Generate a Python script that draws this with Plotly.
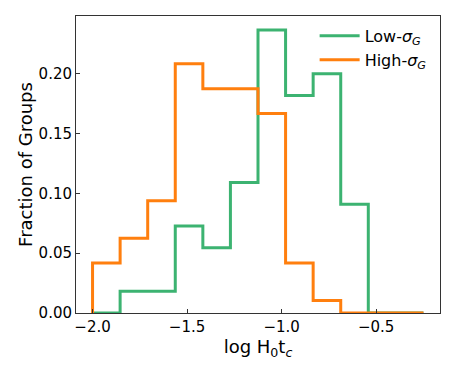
import numpy as np
import plotly.graph_objects as go

# histogram bin edges (12 bins from -2.0 to -0.25)
bin_lo = -2.0
bin_hi = -0.25
n_bins = 12

# fraction of groups per bin
low_sigma = [0.0, 0.0182, 0.0182, 0.0727, 0.0545, 0.1091,
             0.2364, 0.1818, 0.2000, 0.0909, 0.0, 0.0]
high_sigma = [0.0417, 0.0625, 0.0938, 0.2083, 0.1875, 0.1875,
              0.1667, 0.0417, 0.0104, 0.0, 0.0, 0.0]

x_ticks = [-2.0, -1.5, -1.0, -0.5]
y_ticks = [0.0, 0.05, 0.10, 0.15, 0.20]


def step_outline(values):
    # matplotlib-style histtype='step' outline
    edges = np.linspace(bin_lo, bin_hi, n_bins + 1)
    xs = [edges[0]] + list(edges[:-1]) + [edges[-1]]
    ys = [0.0] + list(values) + [0.0]
    return xs, ys


fig = go.Figure()

x_low, y_low = step_outline(low_sigma)
fig.add_trace(go.Scatter(x=x_low, y=y_low, mode='lines', line_shape='hv',
                         line=dict(color='#3cb371', width=3),
                         name='Low-<i>σ</i><sub><i>G</i></sub>'))

x_high, y_high = step_outline(high_sigma)
fig.add_trace(go.Scatter(x=x_high, y=y_high, mode='lines', line_shape='hv',
                         line=dict(color='#ff7f0e', width=3),
                         name='High-<i>σ</i><sub><i>G</i></sub>'))

axis_style = dict(showline=True, linecolor='#333333', linewidth=1, mirror=True,
                  ticks='inside', ticklen=4, tickcolor='#333333',
                  showgrid=False, zeroline=False, automargin=False,
                  tickfont=dict(size=15, color='black'))

fig.update_layout(
    width=457, height=374,
    margin=dict(l=76, r=17, t=16, b=61),
    plot_bgcolor='white', paper_bgcolor='white',
    font=dict(family='DejaVu Sans', size=15, color='black'),
    xaxis=dict(range=[-2.0875, -0.1625], tickvals=x_ticks, tickformat='.1f',
               title=dict(text='log H<sub>0</sub>t<sub><i>c</i></sub>', standoff=0),
               **axis_style),
    yaxis=dict(range=[0, 0.2482], tickvals=y_ticks, tickformat='.2f',
               title=dict(text='Fraction of Groups', standoff=1),
               **axis_style),
    legend=dict(x=0.977, y=0.99, xanchor='right', yanchor='top',
                bgcolor='rgba(0,0,0,0)', font=dict(size=16),
                itemwidth=40, tracegroupgap=0),
    showlegend=True,
)

# page body has a default 8px margin; drop it so the figure sits at 0,0
fig.write_html("out.html", config={'displayModeBar': False},
               post_script="document.body.style.margin='0';")
